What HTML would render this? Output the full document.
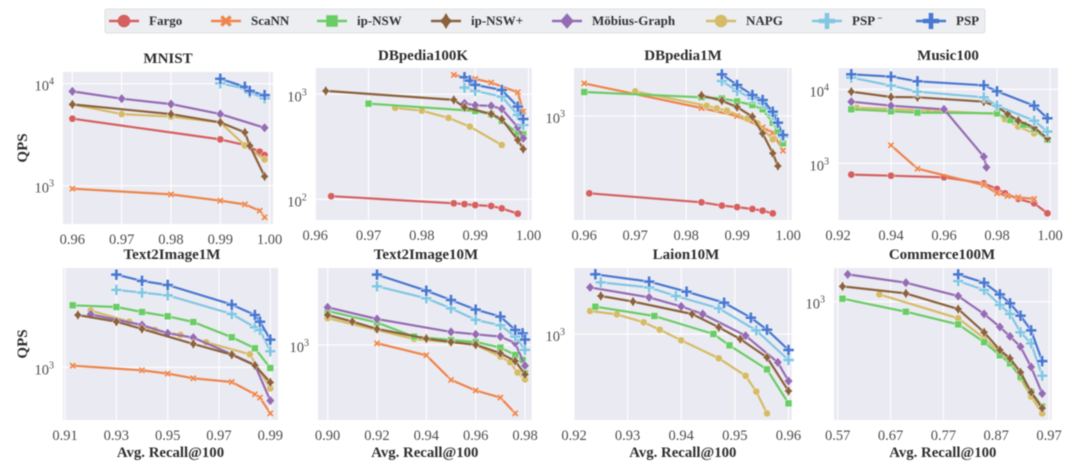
<!DOCTYPE html>
<html lang="en">
<head>
<meta charset="utf-8">
<title>QPS vs Recall</title>
<style>
html,body{margin:0;padding:0;background:#fff;width:1080px;height:465px;overflow:hidden}
svg{display:block;filter:blur(0.55px)}
text{font-family:"Liberation Serif","DejaVu Serif",serif}
</style>
</head>
<body>
<svg id="chart" width="1080" height="465" viewBox="0 0 1080 465" xmlns="http://www.w3.org/2000/svg"></svg>
<script>
const seriesKeys = ['fargo','scann','napg','ipnsw','mobius','ipnswplus','pspminus','psp'];
const legendKeys = ['fargo','scann','ipnsw','ipnswplus','mobius','napg','pspminus','psp'];
const legendLabels = ['Fargo','ScaNN','ip-NSW','ip-NSW+','Möbius-Graph','NAPG','PSP','PSP'];

const mnistXTicks = [0.96,0.97,0.98,0.99,1.00];
const mnistYTicks = [1000,10000];
const mnistFargoX = [0.96,0.99,0.995,0.998,0.999];
const mnistFargoY = [4540,2845,2500,2155,2000];
const mnistScannX = [0.96,0.98,0.99,0.995,0.998,0.999];
const mnistScannY = [935,822,713,656,569,490];
const mnistPlusX = [0.96,0.98,0.99,0.995,0.996,0.999];
const mnistPlusY = [6270,5040,4180,3330,2470,1235];
const mnistMobiusX = [0.96,0.97,0.98,0.99,0.999];
const mnistMobiusY = [8410,7130,6320,5040,3700];
const mnistNapgX = [0.96,0.97,0.98,0.99,0.995,0.999];
const mnistNapgY = [6270,5040,4750,4180,2485,1810];
const mnistMinusX = [0.99,0.995,0.996,0.999];
const mnistMinusY = [10100,9000,8160,7180];
const mnistPspX = [0.99,0.995,0.996,0.999];
const mnistPspY = [11190,9340,8480,7740];

const db100kXTicks = [0.96,0.97,0.98,0.99,1.00];
const db100kYTicks = [100,1000];
const db100kFargoX = [0.963,0.986,0.988,0.99,0.993,0.995,0.998];
const db100kFargoY = [107,91.6,90,88,86.4,82,73];
const db100kScannX = [0.986,0.99,0.993,0.998,0.999];
const db100kScannY = [1528,1400,1291,1045,684];
const db100kIpnswX = [0.97,0.99,0.993,0.995,0.998,0.999];
const db100kIpnswY = [815,693,645,557,425,416];
const db100kPlusX = [0.962,0.986,0.988,0.993,0.995,0.998,0.999];
const db100kPlusY = [1076,883,752,650,578,367,301];
const db100kMobiusX = [0.988,0.99,0.993,0.995,0.998,0.999];
const db100kMobiusY = [821,785,774,725,485,381];
const db100kNapgX = [0.975,0.98,0.985,0.989,0.995];
const db100kNapgY = [741,698,595,492,329];
const db100kMinusX = [0.988,0.99,0.995,0.998,0.999];
const db100kMinusY = [1156,1076,950,635,510];
const db100kPspX = [0.988,0.989,0.99,0.995,0.998,0.999];
const db100kPspY = [1452,1350,1227,1099,763,582];

const db1mXTicks = [0.96,0.97,0.98,0.99,1.00];
const db1mYTicks = [1000];
const db1mFargoX = [0.961,0.983,0.987,0.99,0.993,0.995,0.997];
const db1mFargoY = [208,173,162,157,151,146,138];
const db1mScannX = [0.96,0.983,0.99,0.995,0.997,0.999];
const db1mScannY = [1941,1177,1000,794,713,494];
const db1mIpnswX = [0.96,0.983,0.987,0.99,0.993,0.995,0.997,0.998,0.999];
const db1mIpnswY = [1629,1462,1432,1346,1250,1146,873,733,574];
const db1mPlusX = [0.983,0.987,0.99,0.993,0.995,0.997,0.998];
const db1mPlusY = [1521,1365,1200,987,703,469,362];
const db1mNapgX = [0.97,0.984,0.986,0.988,0.992,0.994,0.997];
const db1mNapgY = [1651,1233,1169,1114,947,861,622];
const db1mMinusX = [0.987,0.99,0.993,0.995,0.997,0.998,0.999];
const db1mMinusY = [2037,1662,1432,1293,1021,861,657];
const db1mPspX = [0.987,0.99,0.993,0.995,0.997,0.998,0.999];
const db1mPspY = [2333,1879,1532,1384,1092,873,680];

const musicXTicks = [0.92,0.94,0.96,0.98,1.00];
const musicYTicks = [1000,10000];
const musicFargoX = [0.925,0.94,0.96,0.975,0.98,0.983,0.988,0.994,0.999];
const musicFargoY = [703,681,647,537,450,393,330,288,211];
const musicScannX = [0.94,0.95,0.975,0.98,0.984,0.988,0.994];
const musicScannY = [1750,847,509,393,362,347,330];
const musicIpnswX = [0.925,0.94,0.95,0.98,0.985,0.99,0.994,0.999];
const musicIpnswY = [5370,5040,4840,4740,3850,3300,2880,2090];
const musicPlusX = [0.925,0.94,0.95,0.975,0.98,0.984,0.988,0.994,0.999];
const musicPlusY = [9290,7870,7800,6810,5830,4640,3770,3060,2180];
const musicMobiusX = [0.925,0.94,0.96,0.975,0.976];
const musicMobiusY = [6810,6010,5370,1230,883];
const musicNapgX = [0.927,0.94,0.954,0.98,0.983,0.988,0.994];
const musicNapgY = [5650,5420,5150,4650,3930,3130,2540];
const musicMinusX = [0.925,0.94,0.95,0.975,0.98,0.994,0.999];
const musicMinusY = [14400,11220,9290,7800,6010,3770,2680];
const musicPspX = [0.925,0.94,0.95,0.975,0.98,0.994,0.999];
const musicPspY = [15960,14830,12820,11320,9400,6010,4060];

const t2i1mXTicks = [0.91,0.93,0.95,0.97,0.99];
const t2i1mYTicks = [1000];
const t2i1mScannX = [0.913,0.94,0.95,0.96,0.975,0.984,0.986,0.99];
const t2i1mScannY = [1026,955,908,845,798,661,628,493];
const t2i1mIpnswX = [0.913,0.93,0.94,0.95,0.96,0.975,0.984,0.99];
const t2i1mIpnswY = [2590,2523,2339,2188,2005,1585,1340,990];
const t2i1mPlusX = [0.915,0.93,0.94,0.96,0.975,0.984,0.99];
const t2i1mPlusY = [2234,2014,1803,1432,1213,1030,794];
const t2i1mMobiusX = [0.92,0.94,0.95,0.96,0.975,0.984,0.99];
const t2i1mMobiusY = [2255,1914,1686,1578,1222,1037,600];
const t2i1mNapgX = [0.92,0.935,0.945,0.955,0.965,0.982,0.99];
const t2i1mNapgY = [2387,2014,1774,1644,1469,1222,724];
const t2i1mMinusX = [0.93,0.94,0.95,0.975,0.984,0.986,0.99];
const t2i1mMinusY = [3281,3148,3020,2268,1849,1774,1279];
const t2i1mPspX = [0.93,0.94,0.95,0.975,0.984,0.986,0.99];
const t2i1mPspY = [4150,3767,3540,2618,2234,2014,1528];

const t2i10mXTicks = [0.90,0.92,0.94,0.96,0.98];
const t2i10mYTicks = [1000];
const t2i10mScannX = [0.92,0.94,0.95,0.96,0.97,0.976];
const t2i10mScannY = [1026,853,585,497,446,350];
const t2i10mIpnswX = [0.90,0.92,0.935,0.95,0.96,0.97,0.976,0.979,0.98];
const t2i10mIpnswY = [1686,1409,1137,1079,1047,960,858,794,647];
const t2i10mPlusX = [0.90,0.91,0.92,0.94,0.95,0.96,0.97,0.976,0.98];
const t2i10mPlusY = [1585,1432,1279,1102,1047,1005,880,782,637];
const t2i10mMobiusX = [0.90,0.92,0.95,0.96,0.97,0.976,0.98];
const t2i10mMobiusY = [1782,1489,1222,1178,1137,1030,728];
const t2i10mNapgX = [0.90,0.92,0.935,0.95,0.96,0.97,0.974,0.977,0.98];
const t2i10mNapgY = [1507,1259,1096,1042,1000,836,766,654,590];
const t2i10mMinusX = [0.92,0.94,0.95,0.96,0.97,0.976,0.98];
const t2i10mMinusY = [2460,2046,1754,1469,1352,1137,927];
const t2i10mPspX = [0.92,0.94,0.95,0.96,0.97,0.976,0.979,0.98];
const t2i10mPspY = [2944,2301,1995,1722,1545,1259,1197,1086];

const laionXTicks = [0.92,0.93,0.94,0.95,0.96];
const laionYTicks = [1000];
const laionIpnswX = [0.924,0.935,0.946,0.949,0.956,0.96];
const laionIpnswY = [1521,1318,1000,840,581,345];
const laionPlusX = [0.925,0.931,0.942,0.947,0.951,0.956,0.96];
const laionPlusY = [1791,1644,1359,1108,927,699,417];
const laionMobiusX = [0.923,0.934,0.94,0.944,0.952,0.958,0.96];
const laionMobiusY = [2046,1754,1528,1359,975,647,486];
const laionNapgX = [0.923,0.928,0.933,0.936,0.94,0.947,0.952,0.954,0.956];
const laionNapgY = [1423,1352,1197,1069,908,689,527,413,296];
const laionMinusX = [0.925,0.934,0.939,0.947,0.954,0.96];
const laionMinusY = [2208,2046,1791,1483,1057,671];
const laionPspX = [0.924,0.934,0.941,0.948,0.953,0.956,0.96];
const laionPspY = [2500,2234,1914,1618,1285,1069,782];

const commerceXTicks = [0.57,0.67,0.77,0.87,0.97];
const commerceYTicks = [1000];
const commerceIpnswX = [0.579,0.699,0.798,0.847,0.877,0.896,0.916,0.936,0.957];
const commerceIpnswY = [1047,858,706,538,439,388,316,251,200];
const commercePlusX = [0.579,0.699,0.798,0.847,0.877,0.896,0.916,0.936,0.957];
const commercePlusY = [1265,1137,893,625,476,419,338,249,195];
const commerceMobiusX = [0.589,0.699,0.798,0.847,0.877,0.896,0.916,0.936,0.957];
const commerceMobiusY = [1521,1339,1091,828,678,587,501,367,244];
const commerceNapgX = [0.649,0.798,0.847,0.877,0.896,0.916,0.936,0.957];
const commerceNapgY = [1119,775,570,459,398,308,233,180];
const commerceMinusX = [0.798,0.847,0.877,0.896,0.916,0.936,0.957];
const commerceMinusY = [1374,1197,951,828,625,527,321];
const commercePspX = [0.798,0.847,0.877,0.896,0.916,0.936,0.957];
const commercePspY = [1521,1339,1119,975,807,644,402];

const seriesColors = {fargo:'#d65f5f',scann:'#ee854a',ipnsw:'#6acc64',ipnswplus:'#8c613c',mobius:'#956cb4',napg:'#d5bb67',pspminus:'#82c6e2',psp:'#4878d0'};
const markerPaths = {
  circle:'M-3.6,0A3.6,3.6 0 1 0 3.6,0A3.6,3.6 0 1 0 -3.6,0Z',
  square:'M-3.3,-3.3H3.3V3.3H-3.3Z',
  diamond:'M0,-4.4L3.9,0L0,4.4L-3.9,0Z',
  star:'M0,-4.6L1.7,-1.7L3.7,0L1.7,1.7L0,4.6L-1.7,1.7L-3.7,0L-1.7,-1.7Z',
  plus:'M-1.3,-4.6H1.3V-1.3H4.6V1.3H1.3V4.6H-1.3V1.3H-4.6V-1.3H-1.3Z',
  cross:'M-3.3,-1.9L-1.9,-3.3L0,-1.4L1.9,-3.3L3.3,-1.9L1.4,0L3.3,1.9L1.9,3.3L0,1.4L-1.9,3.3L-3.3,1.9L-1.4,0Z'
};
const seriesMarkers = {fargo:'circle',scann:'cross',ipnsw:'square',ipnswplus:'star',mobius:'diamond',napg:'circle',pspminus:'plus',psp:'plus'};
const markerScales = {fargo:1,scann:1.05,ipnsw:1.05,ipnswplus:1.15,mobius:1.1,napg:1,pspminus:1.2,psp:1.2};

const panels = [
 {key:'mnist',title:'MNIST',titleX:168,titleY:63,left:63,right:273,top:72,bottom:224,xDom:[0.9581,1.0007],yDom:[2.625,4.115],xTicks:mnistXTicks,yTicks:mnistYTicks,yLabel:true,xLabel:false,
  data:{fargo:[mnistFargoX,mnistFargoY],scann:[mnistScannX,mnistScannY],ipnswplus:[mnistPlusX,mnistPlusY],mobius:[mnistMobiusX,mnistMobiusY],napg:[mnistNapgX,mnistNapgY],pspminus:[mnistMinusX,mnistMinusY],psp:[mnistPspX,mnistPspY]}},
 {key:'dbpedia100k',title:'DBpedia100K',titleX:423,titleY:60,left:315.7,right:531.7,top:68,bottom:220,xDom:[0.9601,1.0006],yDom:[1.803,3.25],xTicks:db100kXTicks,yTicks:db100kYTicks,yLabel:false,xLabel:false,
  data:{fargo:[db100kFargoX,db100kFargoY],scann:[db100kScannX,db100kScannY],ipnsw:[db100kIpnswX,db100kIpnswY],ipnswplus:[db100kPlusX,db100kPlusY],mobius:[db100kMobiusX,db100kMobiusY],napg:[db100kNapgX,db100kNapgY],pspminus:[db100kMinusX,db100kMinusY],psp:[db100kPspX,db100kPspY]}},
 {key:'dbpedia1m',title:'DBpedia1M',titleX:683,titleY:60,left:574,right:791.7,top:68,bottom:220,xDom:[0.958,1.0007],yDom:[2.082,3.424],xTicks:db1mXTicks,yTicks:db1mYTicks,yLabel:false,xLabel:false,
  data:{fargo:[db1mFargoX,db1mFargoY],scann:[db1mScannX,db1mScannY],ipnsw:[db1mIpnswX,db1mIpnswY],ipnswplus:[db1mPlusX,db1mPlusY],napg:[db1mNapgX,db1mNapgY],pspminus:[db1mMinusX,db1mMinusY],psp:[db1mPspX,db1mPspY]}},
 {key:'music100',title:'Music100',titleX:948,titleY:60,left:838,right:1058,top:68,bottom:220,xDom:[0.92,1.003],yDom:[2.234,4.288],xTicks:musicXTicks,yTicks:musicYTicks,yLabel:false,xLabel:false,
  data:{fargo:[musicFargoX,musicFargoY],scann:[musicScannX,musicScannY],ipnsw:[musicIpnswX,musicIpnswY],ipnswplus:[musicPlusX,musicPlusY],mobius:[musicMobiusX,musicMobiusY],napg:[musicNapgX,musicNapgY],pspminus:[musicMinusX,musicMinusY],psp:[musicPspX,musicPspY]}},
 {key:'text2image1m',title:'Text2Image1M',titleX:172,titleY:259,left:63,right:278,top:268,bottom:420,xDom:[0.9092,0.993],yDom:[2.649,3.662],xTicks:t2i1mXTicks,yTicks:t2i1mYTicks,yLabel:true,xLabel:true,
  data:{scann:[t2i1mScannX,t2i1mScannY],ipnsw:[t2i1mIpnswX,t2i1mIpnswY],ipnswplus:[t2i1mPlusX,t2i1mPlusY],mobius:[t2i1mMobiusX,t2i1mMobiusY],napg:[t2i1mNapgX,t2i1mNapgY],pspminus:[t2i1mMinusX,t2i1mMinusY],psp:[t2i1mPspX,t2i1mPspY]}},
 {key:'text2image10m',title:'Text2Image10M',titleX:426,titleY:259,left:318,right:531.7,top:268,bottom:420,xDom:[0.8961,0.9827],yDom:[2.5,3.513],xTicks:t2i10mXTicks,yTicks:t2i10mYTicks,yLabel:false,xLabel:true,
  data:{scann:[t2i10mScannX,t2i10mScannY],ipnsw:[t2i10mIpnswX,t2i10mIpnswY],ipnswplus:[t2i10mPlusX,t2i10mPlusY],mobius:[t2i10mMobiusX,t2i10mMobiusY],napg:[t2i10mNapgX,t2i10mNapgY],pspminus:[t2i10mMinusX,t2i10mMinusY],psp:[t2i10mPspX,t2i10mPspY]}},
 {key:'laion10m',title:'Laion10M',titleX:686,titleY:259,left:574,right:791.7,top:268,bottom:420,xDom:[0.92,0.9606],yDom:[2.427,3.44],xTicks:laionXTicks,yTicks:laionYTicks,yLabel:false,xLabel:true,
  data:{ipnsw:[laionIpnswX,laionIpnswY],ipnswplus:[laionPlusX,laionPlusY],mobius:[laionMobiusX,laionMobiusY],napg:[laionNapgX,laionNapgY],pspminus:[laionMinusX,laionMinusY],psp:[laionPspX,laionPspY]}},
 {key:'commerce100m',title:'Commerce100M',titleX:942,titleY:259,left:834,right:1051.7,top:268,bottom:420,xDom:[0.563,0.975],yDom:[2.211,3.225],xTicks:commerceXTicks,yTicks:commerceYTicks,yLabel:false,xLabel:true,
  data:{ipnsw:[commerceIpnswX,commerceIpnswY],ipnswplus:[commercePlusX,commercePlusY],mobius:[commerceMobiusX,commerceMobiusY],napg:[commerceNapgX,commerceNapgY],pspminus:[commerceMinusX,commerceMinusY],psp:[commercePspX,commercePspY]}}
];

const NS = 'http://www.w3.org/2000/svg';
const root = document.getElementById('chart');
function make(tag, attrs, parent, txt){
  const el = document.createElementNS(NS, tag);
  for (const k in attrs) el.setAttribute(k, attrs[k]);
  if (txt !== undefined) el.textContent = txt;
  parent.appendChild(el);
  return el;
}
function makeXScale(p){ return v => p.left + (v - p.xDom[0]) / (p.xDom[1] - p.xDom[0]) * (p.right - p.left); }
function makeYScale(p){ return v => p.bottom - (Math.log10(v) - p.yDom[0]) / (p.yDom[1] - p.yDom[0]) * (p.bottom - p.top); }

panels.forEach(p => {
  const xs = makeXScale(p), ys = makeYScale(p);
  const g = make('g', {}, root);
  
  

  const bg = make('rect', {x:p.left, y:p.top, width:p.right-p.left, height:p.bottom-p.top, fill:'#eaeaf2'}, g);
  
  

  p.xTicks.forEach(t => {
    const gl = make('line', {x1:xs(t), x2:xs(t), y1:p.top, y2:p.bottom, stroke:'#fff', 'stroke-width':1.1}, g);
    
    
    const tx = make('text', {x:xs(t), y:p.bottom+20, 'text-anchor':'middle', 'font-size':14.5, fill:'#4d4d4d'}, g, t.toFixed(2));
    
    
  });
  p.yTicks.forEach(t => {
    const gl = make('line', {x1:p.left, x2:p.right, y1:ys(t), y2:ys(t), stroke:'#fff', 'stroke-width':1.1}, g);
    
    
    const tx = make('text', {x:p.left-9, y:ys(t)+7, 'text-anchor':'end', 'font-size':14.5, fill:'#4d4d4d'}, g);
    
    
    make('tspan', {}, tx, '10');
    make('tspan', {dy:-6, 'font-size':10}, tx, String(Math.round(Math.log10(t))));
  });

  seriesKeys.forEach(k => {
    const d = p.data[k];
    if (!d) return;
    const sg = make('g', {}, g);
    
    
    const pts = d[0].map((x, i) => xs(x).toFixed(1) + ',' + ys(d[1][i]).toFixed(1)).join(' ');
    const line = make('polyline', {points:pts, fill:'none', stroke:seriesColors[k], 'stroke-width':2.2, 'stroke-linejoin':'round'}, sg);
    
    
    d[0].forEach((x, i) => {
      const m = make('path', {d:markerPaths[seriesMarkers[k]], transform:'translate(' + xs(x).toFixed(1) + ' ' + ys(d[1][i]).toFixed(1) + ') scale(' + markerScales[k] + ')', fill:seriesColors[k], stroke:'#fff', 'stroke-width':0.4}, sg);
      
      
    });
  });

  const title = make('text', {x:p.titleX, y:p.titleY, 'text-anchor':'middle', 'font-size':15, 'font-weight':'bold', fill:'#2e2e2e'}, g, p.title);
  
  

  if (p.yLabel) {
    const cy = (p.top + p.bottom) / 2;
    const yl = make('text', {transform:'translate(27 ' + cy + ') rotate(-90)', 'text-anchor':'middle', 'font-size':15, 'font-weight':'bold', fill:'#2e2e2e'}, g, 'QPS');
    
    
  }
  if (p.xLabel) {
    const cx = (p.left + p.right) / 2;
    const xl = make('text', {x:cx, y:457, 'text-anchor':'middle', 'font-size':14.8, 'font-weight':'bold', fill:'#2e2e2e'}, g, 'Avg. Recall@100');
    
    
  }
});

const legendLineStarts = [109,211,317,431,552,706,812,916];
const legendGroup = make('g', {}, root);


const legendBox = make('rect', {x:105, y:9, width:880, height:24, rx:2, fill:'#eceef2', stroke:'#dfe0e4', 'stroke-width':1}, legendGroup);


legendKeys.forEach((k, i) => {
  const x0 = legendLineStarts[i];
  const e = make('g', {}, legendGroup);
  
  
  make('line', {x1:x0, x2:x0+30, y1:21, y2:21, stroke:seriesColors[k], 'stroke-width':2.4}, e);
  make('path', {d:markerPaths[seriesMarkers[k]], transform:'translate(' + (x0+15) + ' 21) scale(1.75)', fill:seriesColors[k]}, e);
  const t = make('text', {x:x0+40, y:25, 'font-size':13, 'font-weight':'bold', fill:'#333'}, e, legendLabels[i]);
  if (k === 'pspminus') make('tspan', {dy:-4, 'font-size':9}, t, ' −');
});
</script>
</body>
</html>
